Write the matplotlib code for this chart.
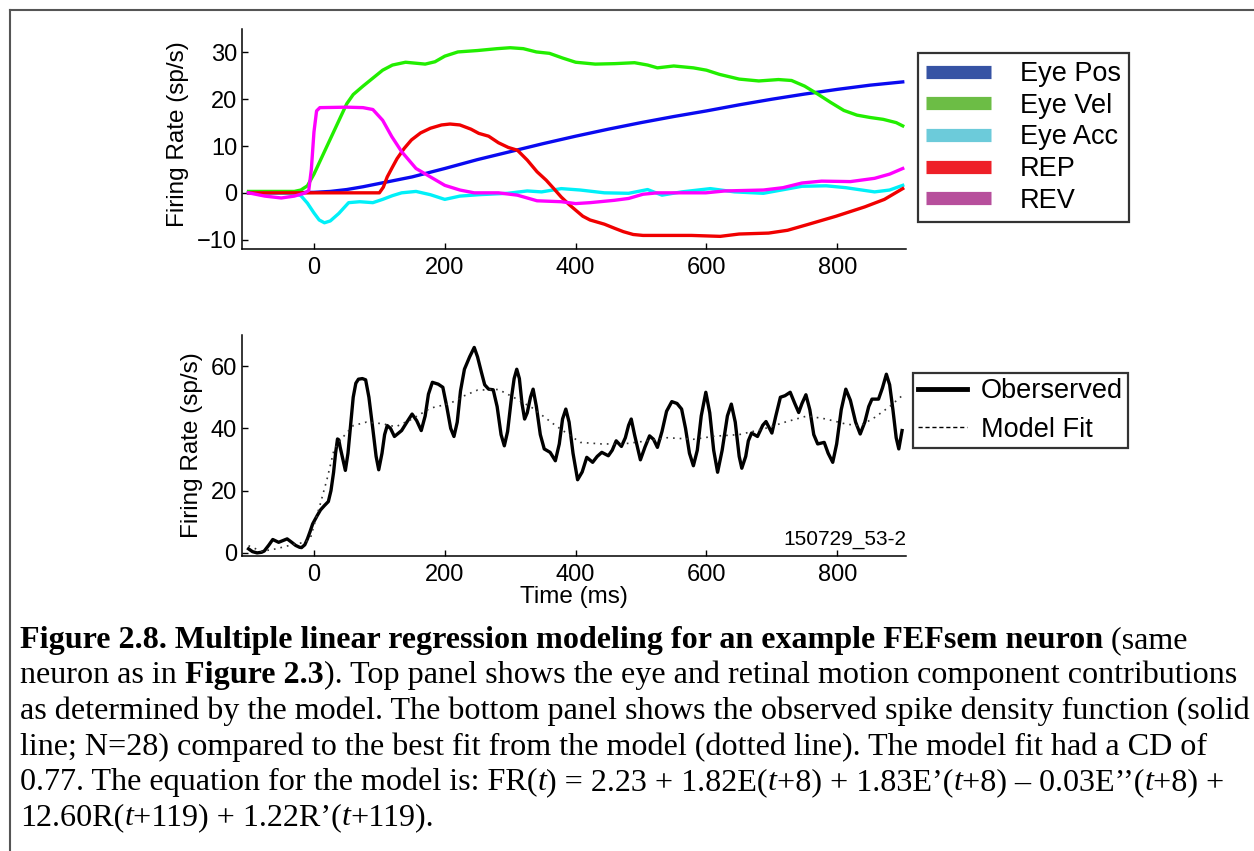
import numpy as np
import matplotlib
matplotlib.use("Agg")
import matplotlib.pyplot as plt
from matplotlib.lines import Line2D

plt.rcParams['font.family'] = ['Liberation Sans', 'DejaVu Sans']

# ---- top panel: model components (time ms, firing rate sp/s)
eye_pos = [(-100, 0), (-50, 0), (0, 0.1), (25, 0.3), (50, 0.7), (75, 1.3), (100, 2.0),
           (150, 3.4), (200, 5.2), (250, 7.1), (300, 8.8), (350, 10.5), (400, 12.1),
           (450, 13.6), (500, 15.0), (550, 16.3), (600, 17.5), (650, 18.8), (700, 20.0),
           (750, 21.1), (800, 22.1), (850, 23.0), (900, 23.7)]
eye_vel = [(-100, 0.3), (-60, 0.3), (-30, 0.3), (-20, 0.6), (-10, 1.5), (0, 4), (10, 7),
           (20, 10), (30, 13), (40, 16), (50, 19), (60, 21), (75, 22.8), (90, 24.5),
           (105, 26.2), (120, 27.3), (140, 27.9), (170, 27.5), (185, 28), (200, 29.2),
           (220, 30.1), (250, 30.4), (280, 30.8), (300, 31.0), (320, 30.8), (340, 30.1),
           (360, 29.8), (380, 28.8), (400, 27.9), (430, 27.5), (460, 27.6), (490, 27.8),
           (510, 27.3), (525, 26.7), (550, 27.1), (580, 26.7), (600, 26.2), (620, 25.3),
           (650, 24.3), (680, 23.9), (710, 24.2), (730, 24.0), (750, 22.8), (770, 21.1),
           (790, 19.3), (810, 17.6), (830, 16.6), (850, 16.1), (870, 15.7), (890, 15.0),
           (900, 14.3)]
eye_acc = [(-100, 0), (-60, 0), (-30, -0.2), (-20, -0.6), (-10, -2.2), (0, -4.3), (8, -5.8),
           (16, -6.4), (25, -6.0), (38, -4.4), (53, -2.1), (70, -1.9), (90, -2.1),
           (105, -1.4), (120, -0.6), (134, 0), (156, 0.3), (178, -0.4), (200, -1.4),
           (223, -0.7), (252, -0.4), (296, -0.1), (326, 0.4), (348, 0.2), (378, 0.9),
           (407, 0.6), (444, 0), (481, -0.1), (510, 0.7), (532, -0.5), (562, 0.2),
           (606, 0.9), (643, 0.2), (687, -0.1), (746, 1.4), (783, 1.5), (813, 1.1),
           (857, 0.2), (880, 0.6), (900, 1.6)]
rep = [(-100, 0), (100, 0), (106, 1.2), (112, 3.4), (120, 5.5), (127, 7.3), (138, 9.5),
       (149, 11.3), (163, 12.8), (178, 13.8), (195, 14.5), (208, 14.7), (223, 14.5),
       (240, 13.6), (252, 12.7), (267, 12.1), (282, 10.7), (297, 9.7), (311, 9.1),
       (326, 7), (341, 4.5), (355, 2.7), (366, 1.0), (378, -0.9), (390, -2.5), (400, -3.7),
       (411, -5.0), (422, -5.8), (444, -6.7), (460, -7.6), (473, -8.3), (488, -8.9),
       (503, -9.1), (577, -9.1), (621, -9.3), (650, -8.8), (695, -8.6), (724, -8.0),
       (754, -6.8), (798, -5.0), (842, -3.0), (872, -1.4), (900, 0.9)]
rev = [(-100, 0), (-75, -0.7), (-50, -1.1), (-30, -0.7), (-15, -0.1), (-8, 0.5), (-4, 5),
       (0, 13), (4, 17.5), (9, 18.2), (50, 18.3), (75, 18.2), (90, 17.8), (105, 15.5),
       (119, 12), (134, 8.8), (156, 5.2), (178, 3.4), (200, 1.6), (223, 0.6), (245, 0),
       (282, 0), (311, -0.5), (341, -1.7), (378, -1.9), (400, -2.3), (422, -2.1),
       (459, -1.6), (481, -1.2), (503, -0.3), (525, 0), (599, 0), (628, 0.4), (687, 0.6),
       (717, 1.1), (746, 2.1), (776, 2.5), (820, 2.4), (857, 3.1), (880, 4.0), (900, 5.2)]

# ---- bottom panel: observed spike density and model fit
observed = [(-100, 1.3), (-94, 0.4), (-87, 0), (-80, 0.2), (-76, 0.6), (-69, 2.5), (-63, 4.3),
            (-58, 3.8), (-54, 3.4), (-47, 4.0), (-41, 4.5), (-34, 3.4), (-28, 2.4), (-22, 1.8),
            (-19, 1.7), (-14, 2.6), (-10, 4.5), (-6, 6.8), (-2, 9.3), (5, 12), (10, 13.8),
            (16, 15.2), (22, 16.5), (26, 20), (30, 25.9), (33, 32), (36, 36.6), (38, 36.3),
            (40, 34), (44, 30.2), (48, 26.5), (52, 32), (56, 41), (60, 50), (64, 54.5),
            (68, 55.8), (74, 56), (79, 55.6), (84, 50), (90, 39.8), (95, 31), (99, 26.7),
            (104, 32), (108, 38), (112, 40.9), (117, 40), (123, 37.4), (134, 39.3),
            (142, 42), (150, 44.6), (157, 42.5), (164, 39.3), (170, 44), (175, 51),
            (181, 54.8), (190, 54.2), (197, 53.2), (203, 47), (209, 40), (214, 37.4),
            (219, 42), (224, 52), (230, 59), (238, 63), (245, 66), (250, 63), (256, 58),
            (261, 54), (267, 52.6), (274, 52.4), (280, 47), (286, 38), (291, 34.4),
            (296, 39), (302, 50), (306, 56), (310, 59), (314, 56), (318, 48), (322, 43),
            (326, 45), (331, 50), (335, 52.6), (340, 47), (346, 38), (352, 33.4),
            (361, 32.3), (369, 29.6), (375, 35), (380, 43), (385, 46.2), (390, 42),
            (396, 32), (403, 23.5), (410, 26), (417, 30.7), (426, 29.1), (433, 31),
            (440, 32.3), (450, 31.2), (456, 33), (462, 36), (470, 34.2), (476, 37),
            (481, 41), (485, 43), (490, 38), (499, 29.9), (506, 34), (513, 37.6),
            (519, 36.5), (525, 33.9), (532, 39), (539, 45.5), (547, 48.6), (555, 48),
            (562, 46.2), (568, 40), (574, 32), (580, 28), (586, 33), (592, 44), (599, 51.6),
            (605, 45), (611, 33), (617, 25.9), (624, 33), (632, 44), (638, 47.8), (644, 42),
            (650, 31), (654, 27.2), (660, 31), (664, 36), (669, 38.5), (678, 37.4),
            (686, 41), (691, 42.2), (700, 38.5), (706, 44), (713, 50), (720, 50.5),
            (728, 51.6), (735, 48), (741, 45.1), (746, 48), (752, 50.8), (758, 46),
            (764, 38), (770, 35), (780, 35.5), (786, 32), (793, 29.1), (799, 35), (806, 46),
            (813, 52.6), (820, 49), (828, 42), (835, 38.2), (842, 42), (848, 47),
            (853, 49.4), (863, 49.4), (869, 53), (875, 57.4), (880, 54), (885, 46),
            (890, 37), (894, 33.4), (899, 39.3)]
model_fit = [(-100, 2.3), (-80, 0.5), (-58, 1.3), (-28, 2.9), (-13, 3.4), (-5, 5), (0, 8.8),
             (9, 15.2), (20, 23.7), (31, 33.4), (46, 37.6), (60, 40.9), (80, 42), (105, 41.5),
             (125, 40.5), (150, 43), (178, 46.5), (208, 48), (230, 50.5), (250, 52.3),
             (282, 52.5), (305, 50), (333, 46.7), (370, 40.8), (407, 35.5), (440, 35),
             (473, 35), (510, 36), (540, 37), (580, 36.5), (613, 37.5), (650, 38), (687, 39.8),
             (720, 42), (754, 44), (783, 43), (813, 41.4), (835, 40.8), (857, 43.5),
             (880, 47), (899, 50.5)]

top_labels = ['Eye Pos', 'Eye Vel', 'Eye Acc', 'REP', 'REV']
line_colors = ['#0a0af0', '#22ee00', '#00f0f8', '#f00000', '#ff00ff']
legend_colors = ['#3653a4', '#6cbd45', '#6ccbda', '#ee2028', '#b74f9c']
top_series = [eye_pos, eye_vel, eye_acc, rep, rev]

# caption: each line is a list of (text, style) pieces; n=normal, b=bold, i=italic
caption_lines = [
    [("Figure 2.8. Multiple linear regression modeling for an example FEFsem neuron", 'b'),
     (" (same", 'n')],
    [("neuron as in ", 'n'), ("Figure 2.3", 'b'),
     ("). Top panel shows the eye and retinal motion component contributions", 'n')],
    [("as determined by the model. The bottom panel shows the observed spike density function (solid", 'n')],
    [("line; N=28) compared to the best fit from the model (dotted line). The model fit had a CD of", 'n')],
    [("0.77. The equation for the model is: FR(", 'n'), ("t", 'i'), (") = 2.23 + 1.82E(", 'n'),
     ("t", 'i'), ("+8) + 1.83E’(", 'n'), ("t", 'i'), ("+8) – 0.03E’’(", 'n'), ("t", 'i'),
     ("+8) +", 'n')],
    [("12.60R(", 'n'), ("t", 'i'), ("+119) + 1.22R’(", 'n'), ("t", 'i'), ("+119).", 'n')],
]

W, H = 1254, 851
fig = plt.figure(figsize=(W / 100, H / 100), dpi=100)

def style_axes(ax):
    for s in ['top', 'right']:
        ax.spines[s].set_visible(False)
    for s in ['left', 'bottom']:
        ax.spines[s].set_linewidth(1.1)
    ax.tick_params(direction='in', length=4, width=1.0, labelsize=17)
    ax.tick_params(axis='x', pad=5.5)
    ax.tick_params(axis='y', pad=3.5)
    ax.set_xlim(-110, 905)
    ax.set_xticks([0, 200, 400, 600, 800])

# top axes
ax1 = fig.add_axes([242 / W, 1 - 249 / H, 664 / W, 220 / H])
for data, c in zip(top_series, line_colors):
    t, v = np.array(data).T
    ax1.plot(t, v, color=c, lw=2.4)
style_axes(ax1)
ax1.set_ylim(-12, 35)
ax1.set_yticks([-10, 0, 10, 20, 30])
ax1.set_ylabel('Firing Rate (sp/s)', fontsize=17.5)
ax1.yaxis.set_label_coords(-0.080, 0.52)

handles = [Line2D([], [], color=c, lw=9.5, solid_capstyle='butt') for c in legend_colors]
leg1 = ax1.legend(handles, top_labels, loc='upper left',
                  bbox_to_anchor=(918 / W, 1 - 53 / H), bbox_transform=fig.transFigure,
                  borderaxespad=0, fontsize=19.5, frameon=True, fancybox=False,
                  handlelength=2.4, handletextpad=1.05, labelspacing=0.21, borderpad=0.3)
leg1.get_frame().set_edgecolor('black')
leg1.get_frame().set_linewidth(1.6)

# bottom axes
ax2 = fig.add_axes([242 / W, 1 - 556 / H, 664 / W, 221 / H])
t, v = np.array(observed).T
ax2.plot(t, v, color='black', lw=2.4, solid_joinstyle='round')
t, v = np.array(model_fit).T
ax2.plot(t, v, color='#333333', lw=1.2, ls=(0, (1, 3)))
style_axes(ax2)
ax2.set_ylim(-1, 70)
ax2.set_yticks([0, 20, 40, 60])
ax2.set_ylabel('Firing Rate (sp/s)', fontsize=17.5)
ax2.yaxis.set_label_coords(-0.059, 0.5)
ax2.set_xlabel('Time (ms)', fontsize=17.5)
ax2.xaxis.set_label_coords(0.5, -0.135)
ax2.text(1.0, 0.03, '150729_53-2', transform=ax2.transAxes, ha='right', va='bottom',
         fontsize=15)

h2 = [Line2D([], [], color='black', lw=3.5),
      Line2D([], [], color='black', lw=1.0, ls=(0, (3, 2)))]
leg2 = ax2.legend(h2, ['Oberserved', 'Model Fit'], loc='upper left',
                  bbox_to_anchor=(913 / W, 1 - 373 / H), bbox_transform=fig.transFigure,
                  borderaxespad=0, fontsize=19.5, frameon=True, fancybox=False,
                  handlelength=1.8, handletextpad=0.5, labelspacing=0.45, borderpad=0.2)
leg2.get_frame().set_edgecolor('black')
leg2.get_frame().set_linewidth(1.6)

# frame around the figure (top and left edges visible)
fig.add_artist(Line2D([10 / W, 1], [1 - 10 / H, 1 - 10 / H], color='#555555', lw=1.5,
                      transform=fig.transFigure))
fig.add_artist(Line2D([10 / W, 10 / W], [1 - 10 / H, 0], color='#555555', lw=1.5,
                      transform=fig.transFigure))

# caption, size fitted to the width of the plain third line
renderer = fig.canvas.get_renderer()
styles = {'n': dict(weight='normal', style='normal'),
          'b': dict(weight='bold', style='normal'),
          'i': dict(weight='normal', style='italic')}

def text_width(s, fs, st):
    # bracket the string so leading/trailing spaces are counted
    a = fig.text(0, 0, '|' + s + '|', family='Liberation Serif', fontsize=fs, **styles[st])
    b = fig.text(0, 0, '||', family='Liberation Serif', fontsize=fs, **styles[st])
    w = a.get_window_extent(renderer).width - b.get_window_extent(renderer).width
    a.remove()
    b.remove()
    return w

fs = 20 * 1228 / text_width(caption_lines[2][0][0], 20, 'n')
line_y = [637, 672, 708, 744, 779, 814]
for pieces, y in zip(caption_lines, line_y):
    x = 20.0
    for s, st in pieces:
        fig.text(x / W, 1 - y / H, s, family='Liberation Serif', fontsize=fs,
                 ha='left', va='center_baseline', **styles[st])
        x += text_width(s, fs, st)

fig.savefig('out.png', dpi=100)
